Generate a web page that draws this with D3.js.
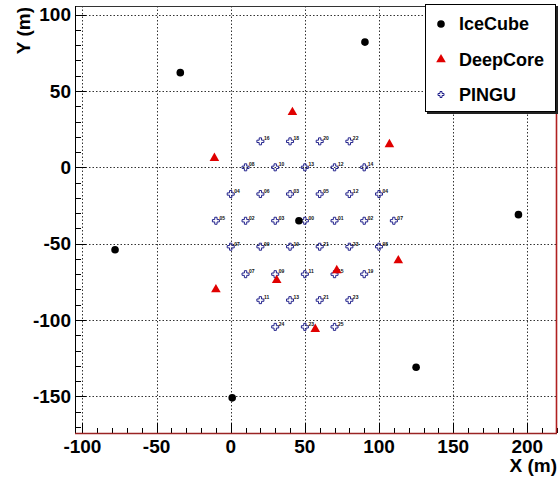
<!DOCTYPE html>
<html><head><meta charset="utf-8">
<script src="https://cdn.jsdelivr.net/npm/d3@7"></script>
<style>
html,body{margin:0;padding:0;background:#fff;}
svg{display:block;}
text{font-family:"Liberation Sans",Arial,Helvetica,sans-serif;font-weight:bold;}
</style></head>
<body>
<svg id="chart" width="558" height="478"></svg>
<script>
// ---- data ----
const xTicks = [-100, -50, 0, 50, 100, 150, 200];
const yTicks = [-150, -100, -50, 0, 50, 100];
const xTickLabels = ["-100", "-50", "0", "50", "100", "150", "200"];
const yTickLabels = ["-150", "-100", "-50", "0", "50", "100"];

const iceCubeX = [-34, 90.5, -78, 46, 194, 125, 1];
const iceCubeY = [62, 82, -54, -35, -31, -131, -151];

const deepCoreX = [-11, 41.6, 107, 113, 71.5, 31, -10, 57];
const deepCoreY = [6, 36, 15, -61, -67.5, -74, -80, -106];

const pinguX = [20, 40, 60, 80,
                10, 30, 50, 70, 90,
                0, 20, 40, 60, 80, 100,
                -10, 10, 30, 50, 70, 90, 110,
                0, 20, 40, 60, 80, 100,
                10, 30, 50, 70, 90,
                20, 40, 60, 80,
                30, 50, 70];
const pinguY = [17, 17, 17, 17,
                0, 0, 0, 0, 0,
                -17.5, -17.5, -17.5, -17.5, -17.5, -17.5,
                -35, -35, -35, -35, -35, -35, -35,
                -52, -52, -52, -52, -52, -52,
                -70, -70, -70, -70, -70,
                -87, -87, -87, -87,
                -104.5, -104.5, -104.5];
const pinguLabels = ["16", "18", "20", "22",
                     "08", "10", "13", "12", "14",
                     "04", "06", "03", "05", "12", "04",
                     "05", "02", "03", "00", "01", "02", "07",
                     "07", "09", "19", "21", "23", "08",
                     "07", "09", "11", "15", "19",
                     "11", "13", "21", "23",
                     "24", "23", "25"];

const legendLabels = ["IceCube", "DeepCore", "PINGU"];

// ---- layout ----
const svg = d3.select("#chart");
const L = 75, R = 557, T = 6, B = 433;
const x = d3.scaleLinear().domain([-105, 220]).range([L, R]);
const y = d3.scaleLinear().domain([-175, 105]).range([B + 1.5, T + 1]);

svg.append("rect").attr("width", 558).attr("height", 478).attr("fill", "#fff");

// grid
const grid = svg.append("g").attr("stroke", "#333").attr("stroke-width", 1).attr("stroke-dasharray", "1.5,2");
grid.selectAll("line.gx").data(xTicks).enter().append("line")
  .attr("x1", d => Math.round(x(d)) + 0.5).attr("x2", d => Math.round(x(d)) + 0.5)
  .attr("y1", T).attr("y2", B);
grid.selectAll("line.gy").data(yTicks).enter().append("line")
  .attr("y1", d => Math.round(y(d)) + 0.5).attr("y2", d => Math.round(y(d)) + 0.5)
  .attr("x1", L).attr("x2", R);

// minor/major ticks (inside)
const xMinor = d3.range(-100, 221, 10);
const yMinor = d3.range(-170, 101, 10);
const tk = svg.append("g").attr("stroke", "#000").attr("stroke-width", 1);
tk.selectAll("line.xm").data(xMinor).enter().append("line")
  .attr("x1", d => Math.round(x(d)) + 0.5).attr("x2", d => Math.round(x(d)) + 0.5)
  .attr("y1", B).attr("y2", d => B - (d % 50 === 0 ? 10 : 5));
tk.selectAll("line.ym").data(yMinor).enter().append("line")
  .attr("y1", d => Math.round(y(d)) + 0.5).attr("y2", d => Math.round(y(d)) + 0.5)
  .attr("x1", L).attr("x2", d => L + (d % 50 === 0 ? 11 : 6));

// frame
svg.append("line").attr("x1", L).attr("x2", R).attr("y1", T + 0.5).attr("y2", T + 0.5).attr("stroke", "#333");
svg.append("line").attr("x1", L + 0.5).attr("x2", L + 0.5).attr("y1", T).attr("y2", B).attr("stroke", "#000");
svg.append("line").attr("x1", L).attr("x2", R).attr("y1", B + 0.5).attr("y2", B + 0.5).attr("stroke", "#9a2424").attr("stroke-width", 1.6);
svg.append("line").attr("x1", R - 0.5).attr("x2", R - 0.5).attr("y1", T).attr("y2", B).attr("stroke", "#b02020").attr("stroke-width", 1.6);

// tick labels
svg.append("g").selectAll("text").data(xTicks).enter().append("text")
  .attr("x", d => x(d)).attr("y", 453).attr("text-anchor", "middle")
  .attr("font-size", 19).attr("fill", "#000").text((d, i) => xTickLabels[i]);
svg.append("g").selectAll("text").data(yTicks).enter().append("text")
  .attr("x", 71).attr("y", d => y(d)).attr("dy", "0.36em").attr("text-anchor", "end")
  .attr("font-size", 19).attr("fill", "#000").text((d, i) => yTickLabels[i]);

// axis titles
svg.append("text").attr("x", 557).attr("y", 472).attr("text-anchor", "end")
  .attr("font-size", 19).text("X (m)");
svg.append("text").attr("transform", "translate(30,7) rotate(-90)").attr("text-anchor", "end")
  .attr("font-size", 19).text("Y (m)");

// PINGU markers
const crossPath = (s) => {
  const a = s / 2, b = s / 6;
  return `M${-b},${-a}H${b}V${-b}H${a}V${b}H${b}V${a}H${-b}V${b}H${-a}V${-b}H${-b}Z`;
};
const pingu = svg.append("g");
pinguX.forEach((px, i) => {
  pingu.append("path").attr("d", crossPath(7))
    .attr("transform", `translate(${x(px)},${y(pinguY[i])})`)
    .attr("fill", "none").attr("stroke", "#23238c").attr("stroke-width", 1);
  pingu.append("text").attr("x", x(px) + 3.5).attr("y", y(pinguY[i]) - 1)
    .attr("font-size", 5).attr("font-weight", "normal").attr("fill", "#111")
    .text(pinguLabels[i]);
});

// IceCube markers
svg.append("g").selectAll("circle").data(iceCubeX).enter().append("circle")
  .attr("cx", d => x(d)).attr("cy", (d, i) => y(iceCubeY[i])).attr("r", 3.8).attr("fill", "#000");

// DeepCore markers
const tri = d3.symbol().type(d3.symbolTriangle).size(40);
svg.append("g").selectAll("path").data(deepCoreX).enter().append("path")
  .attr("d", tri).attr("transform", (d, i) => `translate(${x(d)},${y(deepCoreY[i])})`)
  .attr("fill", "#e00000");

// legend
const lg = svg.append("g");
lg.append("rect").attr("x", 427).attr("y", 6).attr("width", 131).attr("height", 108).attr("fill", "#222");
lg.append("rect").attr("x", 425.5).attr("y", 4.5).attr("width", 130).attr("height", 107).attr("fill", "#fff").attr("stroke", "#000");
const ly = [24, 59.5, 94.5];
lg.append("circle").attr("cx", 441).attr("cy", ly[0]).attr("r", 3.8).attr("fill", "#000");
lg.append("path").attr("d", tri).attr("transform", `translate(441,${ly[1]})`).attr("fill", "#e00000");
lg.append("path").attr("d", crossPath(6)).attr("transform", `translate(441,${ly[2]})`)
  .attr("fill", "none").attr("stroke", "#23238c").attr("stroke-width", 1);
lg.selectAll("text").data(legendLabels).enter().append("text")
  .attr("x", 459).attr("y", (d, i) => ly[i]).attr("dy", "0.36em")
  .attr("font-size", 18).attr("fill", "#000").text(d => d);
</script>
</body></html>
